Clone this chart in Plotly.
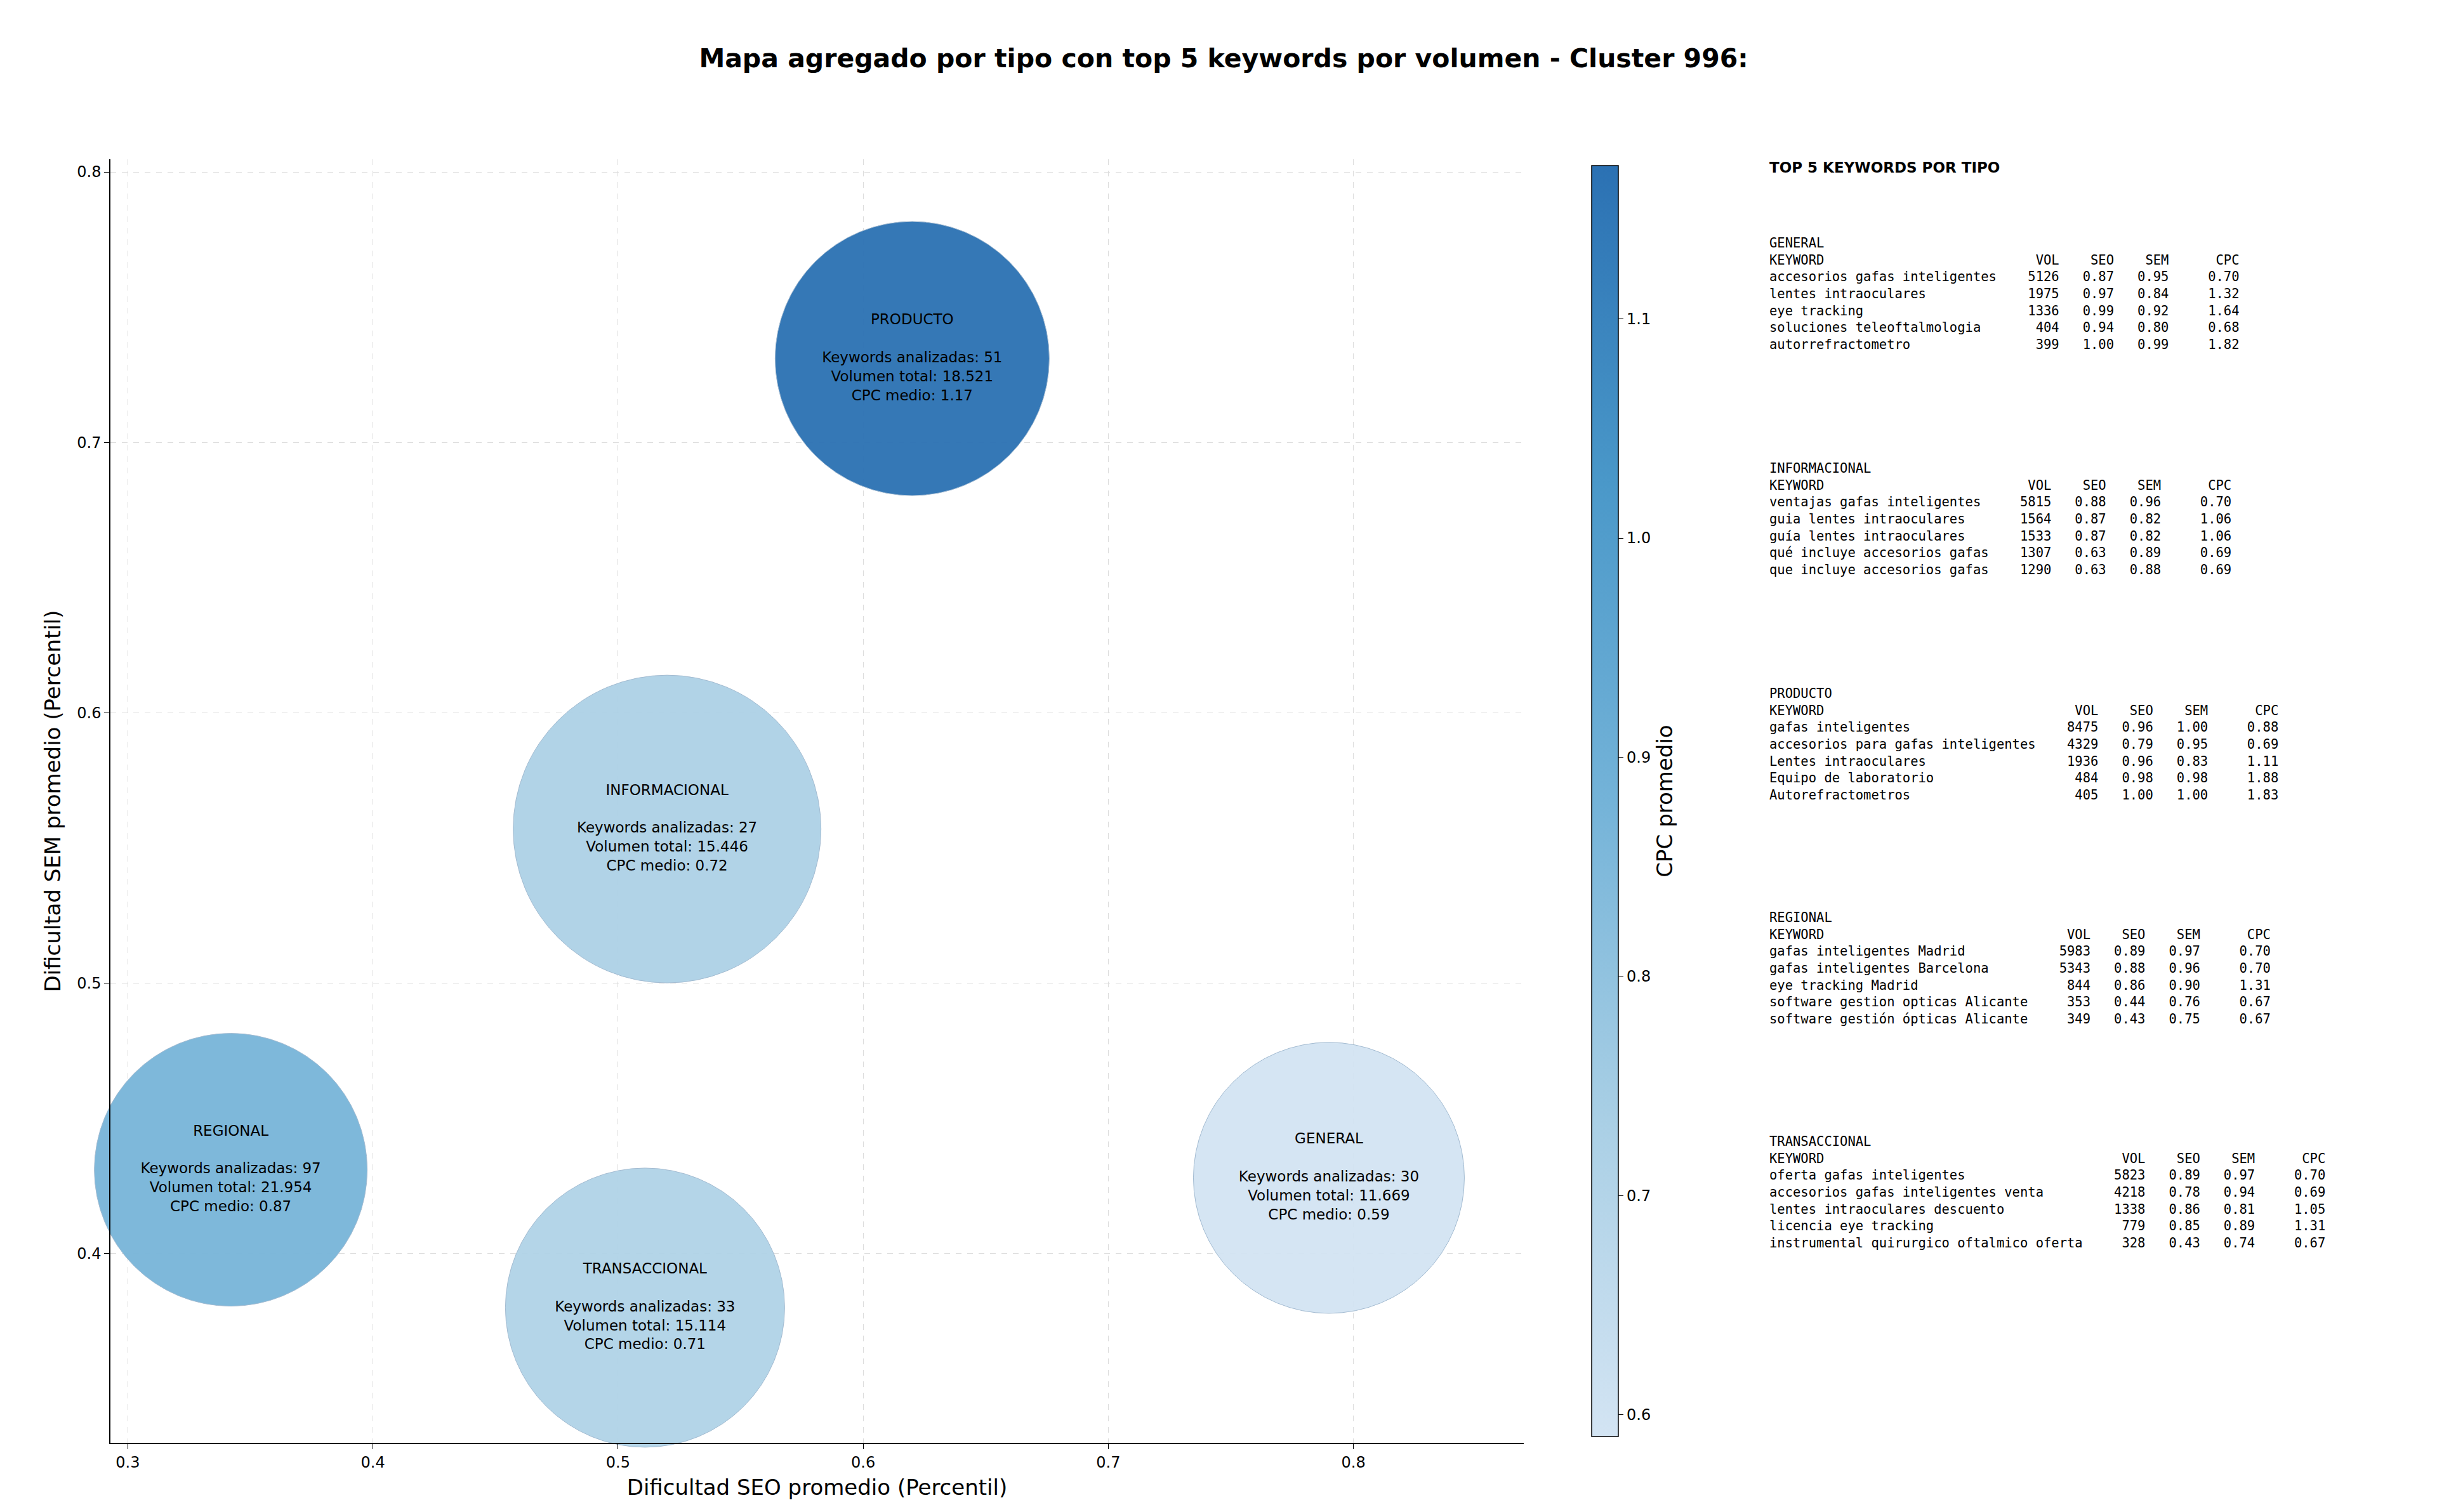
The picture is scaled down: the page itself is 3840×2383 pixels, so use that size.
import plotly.graph_objects as go

tipos = ["PRODUCTO", "INFORMACIONAL", "REGIONAL", "GENERAL", "TRANSACCIONAL"]
seo_prom = [0.620, 0.520, 0.342, 0.790, 0.511]
sem_prom = [0.731, 0.557, 0.431, 0.428, 0.380]
cpc_prom = [1.17, 0.72, 0.87, 0.59, 0.71]
n_keywords = [51, 27, 97, 30, 33]
volumen = ["18.521", "15.446", "21.954", "11.669", "15.114"]
bubble_size = [432, 485, 430, 427, 440]

top5 = {
    "GENERAL": [
        ("accesorios gafas inteligentes", 5126, 0.87, 0.95, 0.70),
        ("lentes intraoculares", 1975, 0.97, 0.84, 1.32),
        ("eye tracking", 1336, 0.99, 0.92, 1.64),
        ("soluciones teleoftalmologia", 404, 0.94, 0.80, 0.68),
        ("autorrefractometro", 399, 1.00, 0.99, 1.82),
    ],
    "INFORMACIONAL": [
        ("ventajas gafas inteligentes", 5815, 0.88, 0.96, 0.70),
        ("guia lentes intraoculares", 1564, 0.87, 0.82, 1.06),
        ("guía lentes intraoculares", 1533, 0.87, 0.82, 1.06),
        ("qué incluye accesorios gafas", 1307, 0.63, 0.89, 0.69),
        ("que incluye accesorios gafas", 1290, 0.63, 0.88, 0.69),
    ],
    "PRODUCTO": [
        ("gafas inteligentes", 8475, 0.96, 1.00, 0.88),
        ("accesorios para gafas inteligentes", 4329, 0.79, 0.95, 0.69),
        ("Lentes intraoculares", 1936, 0.96, 0.83, 1.11),
        ("Equipo de laboratorio", 484, 0.98, 0.98, 1.88),
        ("Autorefractometros", 405, 1.00, 1.00, 1.83),
    ],
    "REGIONAL": [
        ("gafas inteligentes Madrid", 5983, 0.89, 0.97, 0.70),
        ("gafas inteligentes Barcelona", 5343, 0.88, 0.96, 0.70),
        ("eye tracking Madrid", 844, 0.86, 0.90, 1.31),
        ("software gestion opticas Alicante", 353, 0.44, 0.76, 0.67),
        ("software gestión ópticas Alicante", 349, 0.43, 0.75, 0.67),
    ],
    "TRANSACCIONAL": [
        ("oferta gafas inteligentes", 5823, 0.89, 0.97, 0.70),
        ("accesorios gafas inteligentes venta", 4218, 0.78, 0.94, 0.69),
        ("lentes intraoculares descuento", 1338, 0.86, 0.81, 1.05),
        ("licencia eye tracking", 779, 0.85, 0.89, 1.31),
        ("instrumental quirurgico oftalmico oferta", 328, 0.43, 0.74, 0.67),
    ],
}

W, H = 3840, 2383
ml, mr, mt, mb = 166, 1447, 243, 117
pw, ph = W - ml - mr, H - mt - mb

blues = [[0, "#d3e4f3"], [0.25, "#a9cfe5"], [0.5, "#74b3d8"], [0.75, "#4a98c9"], [1, "#2b71b3"]]

labels = [f"{t}<br><br>Keywords analizadas: {n}<br>Volumen total: {v}<br>CPC medio: {c:.2f}"
          for t, n, v, c in zip(tipos, n_keywords, volumen, cpc_prom)]

fig = go.Figure(go.Scatter(
    x=seo_prom, y=sem_prom, mode="markers+text", text=labels,
    textposition="middle center", cliponaxis=False,
    textfont=dict(family="DejaVu Sans", size=23, color="black"),
    marker=dict(size=bubble_size, color=cpc_prom, colorscale=blues, cmin=0.59, cmax=1.17,
                opacity=0.95, line=dict(color="#9fb8cf", width=1),
                colorbar=dict(x=(2490 - ml) / pw, xanchor="left", thickness=42, len=1, lenmode="fraction",
                              y=0.5, yanchor="middle", outlinecolor="black", outlinewidth=1.5,
                              tickvals=[0.6, 0.7, 0.8, 0.9, 1.0, 1.1], tickformat=".1f",
                              ticks="outside", ticklen=8, tickcolor="black",
                              tickfont=dict(size=24, family="DejaVu Sans", color="black"),
                              title=dict(text="CPC promedio", side="right",
                                         font=dict(size=34, family="DejaVu Sans", color="black")))),
    showlegend=False, hoverinfo="skip"))

ann = []
ann.append(dict(text="<b>TOP 5 KEYWORDS POR TIPO</b>", xref="paper", yref="paper",
                x=(2778 - ml) / pw, y=1 - (256 - mt) / ph, xanchor="left", yanchor="middle",
                showarrow=False, font=dict(family="DejaVu Sans", size=23, color="black")))
block_top = [373, 728, 1083, 1436, 1789]
for (tipo, rows), ytop in zip(top5.items(), block_top):
    w = max(len(r[0]) for r in rows) + 2
    lines = [tipo, f"{'KEYWORD':<{w}}{'VOL':>6}{'SEO':>7}{'SEM':>7}{'CPC':>9}"]
    for kw, vol, seo, sem, cpc in rows:
        lines.append(f"{kw:<{w}}{vol:>6}{seo:>7.2f}{sem:>7.2f}{cpc:>9.2f}")
    txt = "<br>".join(l.replace(" ", "\u00a0") for l in lines)
    ann.append(dict(text=txt, xref="paper", yref="paper", x=(2778 - ml) / pw,
                    y=1 - (ytop - 12 - mt) / ph, xanchor="left", yanchor="top", align="left",
                    showarrow=False, font=dict(family="DejaVu Sans Mono", size=20.5, color="black")))

axis_common = dict(showline=True, linecolor="black", linewidth=1.5, ticks="outside", ticklen=8,
                   tickcolor="black", showgrid=True, gridcolor="#dddddd", griddash="dash",
                   zeroline=False, tickfont=dict(size=24, family="DejaVu Sans", color="black"))

fig.update_layout(
    width=W, height=H, plot_bgcolor="white", paper_bgcolor="white",
    margin=dict(l=ml, r=mr, t=mt, b=mb),
    title=dict(text="<b>Mapa agregado por tipo con top 5 keywords por volumen - Cluster 996:</b>",
               x=0.5, xanchor="center", y=1 - 84 / H, yanchor="middle",
               font=dict(size=41, family="DejaVu Sans", color="black")),
    xaxis=dict(range=[0.2929, 0.8695], tickvals=[0.3, 0.4, 0.5, 0.6, 0.7, 0.8],
               title=dict(text="Dificultad SEO promedio (Percentil)",
                          font=dict(size=34, family="DejaVu Sans", color="black")),
               **axis_common),
    yaxis=dict(range=[0.330, 0.8047], tickvals=[0.4, 0.5, 0.6, 0.7, 0.8],
               title=dict(text="Dificultad SEM promedio (Percentil)",
                          font=dict(size=34, family="DejaVu Sans", color="black")),
               **axis_common),
    annotations=ann,
)

fig.write_html("out.html")
